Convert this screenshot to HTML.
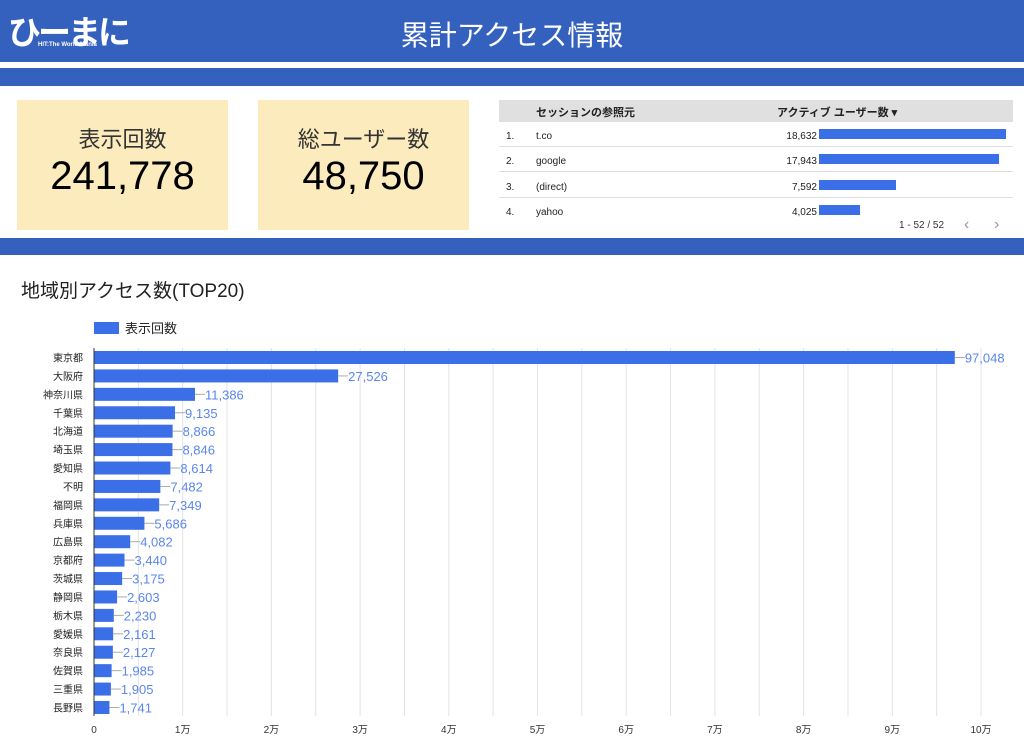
<!DOCTYPE html><html><head><meta charset="utf-8"><style>
body{margin:0;width:1024px;height:754px;background:#fff;font-family:"Liberation Sans","Noto Sans CJK JP",sans-serif;position:relative;overflow:hidden}
.a{position:absolute}
.card{background:#fcebbd;text-align:center;color:#000}
.t{position:absolute;font-size:10px;color:#222;line-height:12px}
</style></head><body>
<div class="a" style="left:0;top:0;width:1024px;height:62px;background:#3461be"></div>
<div class="a" style="left:8px;top:6px;color:#fff;font-size:33px;font-weight:bold;letter-spacing:-3px">ひーまに</div>
<div class="a" style="left:38px;top:42px;color:#fff;font-size:6px;font-weight:bold">HIT:The World Mania</div>
<div class="a" style="left:0;top:14px;width:1024px;text-align:center;color:#fff;font-size:28px">累計アクセス情報</div>
<div class="a" style="left:0;top:68px;width:1024px;height:18px;background:#3461be"></div>
<div class="a card" style="left:17px;top:100px;width:211px;height:130px"><div style="font-size:22px;color:#333;margin-top:22px">表示回数</div><div style="font-size:40px;margin-top:0px">241,778</div></div>
<div class="a card" style="left:258px;top:100px;width:211px;height:130px"><div style="font-size:22px;color:#333;margin-top:22px">総ユーザー数</div><div style="font-size:40px;margin-top:0px">48,750</div></div>
<div class="a" style="left:499px;top:100px;width:514px;height:22px;background:#e0e0e0"></div>
<div class="a" style="left:536px;top:104px;font-size:11px;font-weight:bold;color:#222">セッションの参照元</div>
<div class="a" style="left:777px;top:104px;font-size:11px;font-weight:bold;color:#222">アクティブ ユーザー数 ▾</div>
<div class="a" style="left:499px;top:146px;width:514px;height:1px;background:#ddd"></div>
<div class="a" style="left:499px;top:171px;width:514px;height:1px;background:#ddd"></div>
<div class="a" style="left:499px;top:197px;width:514px;height:1px;background:#ddd"></div>
<div class="t" style="left:506px;top:131px">1.</div><div class="t" style="left:536px;top:131px">t.co</div><div class="t" style="left:757px;width:60px;text-align:right;top:131px">18,632</div>
<div class="t" style="left:506px;top:156px">2.</div><div class="t" style="left:536px;top:156px">google</div><div class="t" style="left:757px;width:60px;text-align:right;top:156px">17,943</div>
<div class="t" style="left:506px;top:182px">3.</div><div class="t" style="left:536px;top:182px">(direct)</div><div class="t" style="left:757px;width:60px;text-align:right;top:182px">7,592</div>
<div class="t" style="left:506px;top:207px">4.</div><div class="t" style="left:536px;top:207px">yahoo</div><div class="t" style="left:757px;width:60px;text-align:right;top:207px">4,025</div>
<div class="a" style="left:819px;top:129px;width:187px;height:10px;background:#3b6fe8"></div>
<div class="a" style="left:819px;top:154px;width:180px;height:10px;background:#3b6fe8"></div>
<div class="a" style="left:819px;top:180px;width:77px;height:10px;background:#3b6fe8"></div>
<div class="a" style="left:819px;top:205px;width:41px;height:10px;background:#3b6fe8"></div>
<div class="a" style="left:899px;top:220px;font-size:10px;color:#333">1 - 52 / 52</div>
<div class="a" style="left:964px;top:216px;font-size:16px;color:#999">‹</div>
<div class="a" style="left:994px;top:216px;font-size:16px;color:#999">›</div>
<div class="a" style="left:0;top:238px;width:1024px;height:17px;background:#3461be"></div>
<div class="a" style="left:21px;top:276px;font-size:19px;color:#222">地域別アクセス数(TOP20)</div>
<svg class="a" style="left:0;top:0" width="1024" height="754" font-family="Liberation Sans,Noto Sans CJK JP,sans-serif">
<rect x="94" y="322" width="25" height="12" fill="#3b6fe8"/>
<text x="125" y="333" font-size="13" fill="#222">表示回数</text>
<g id="g"></g>
</svg>
<script>
var names=["東京都","大阪府","神奈川県","千葉県","北海道","埼玉県","愛知県","不明","福岡県","兵庫県","広島県","京都府","茨城県","静岡県","栃木県","愛媛県","奈良県","佐賀県","三重県","長野県"];
var v=[97048,27526,11386,9135,8866,8846,8614,7482,7349,5686,4082,3440,3175,2603,2230,2161,2127,1985,1905,1741];
var s="",k=88.7/10000,x0=94;
for(var i=1;i<=21;i++){var gx=x0+i*5000*k;s+='<line x1="'+gx+'" y1="348" x2="'+gx+'" y2="716" stroke="#e3e3e3"/>';}
for(var i=0;i<=10;i++){var gx=x0+i*10000*k;s+='<text x="'+gx+'" y="733" font-size="10" fill="#333" text-anchor="middle">'+(i?i+'万':'0')+'</text>';}
for(var i=0;i<20;i++){var y=351+i*18.42,w=v[i]*k;
s+='<rect x="'+x0+'" y="'+y+'" width="'+w+'" height="13" fill="#3b6fe8"/>';
s+='<text x="83" y="'+(y+10.5)+'" font-size="10" fill="#222" text-anchor="end">'+names[i]+'</text>';
s+='<line x1="'+(x0+w)+'" y1="'+(y+6.5)+'" x2="'+(x0+w+10)+'" y2="'+(y+6.5)+'" stroke="#aaa"/>';
s+='<text x="'+(x0+w+10)+'" y="'+(y+11.5)+'" font-size="13" fill="#5b86ee">'+v[i].toLocaleString('en-US')+'</text>';}
s+='<line x1="94" y1="348" x2="94" y2="716" stroke="#333"/>';
document.getElementById('g').innerHTML=s;
</script>
</body></html>
